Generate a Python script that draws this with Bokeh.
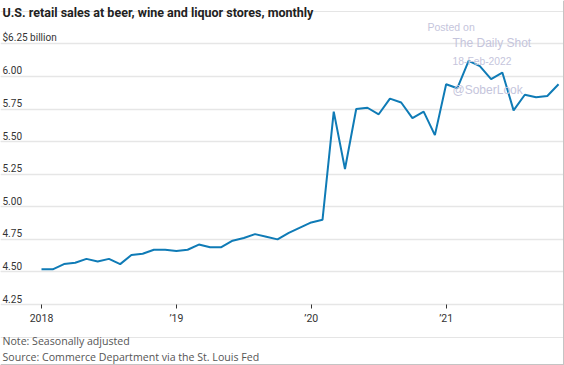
from bokeh.plotting import figure
from bokeh.models import Range1d, FixedTicker, Grid, Span, Label
from bokeh.core.properties import value
from bokeh.embed import file_html
from bokeh.resources import INLINE

# ---- data ----
months = list(range(47))  # Jan 2018 .. Nov 2021
sales = [4.52, 4.52, 4.56, 4.57, 4.60, 4.58, 4.60, 4.56, 4.63, 4.64, 4.67, 4.67,
         4.66, 4.67, 4.71, 4.69, 4.69, 4.74, 4.76, 4.79, 4.77, 4.75, 4.80, 4.84,
         4.88, 4.90, 5.73, 5.29, 5.75, 5.76, 5.71, 5.83, 5.80, 5.68, 5.73, 5.55,
         5.94, 5.91, 6.12, 6.08, 5.98, 6.03, 5.74, 5.86, 5.84, 5.85, 5.94]
y_ticks = [4.25, 4.50, 4.75, 5.00, 5.25, 5.50, 5.75, 6.00, 6.25]
y_labels = ["4.25", "4.50", "4.75", "5.00", "5.25", "5.50", "5.75", "6.00", "$6.25 billion"]
x_ticks = [0, 12, 24, 36]
x_labels = ["2018", "\u201919", "\u201920", "\u201921"]

# ---- layout helpers (pixel -> data) ----
W, H = 564, 365
PX_MONTH = 11.24
PX_UNIT = 130.3
def dx(px):
    return (px - 41) / PX_MONTH
def dy(py):
    return 4.25 + (304 - py) / PX_UNIT

p = figure(width=W, height=H, output_backend="svg", toolbar_location=None,
           x_range=Range1d(dx(0), dx(W)), y_range=Range1d(dy(H), dy(0)),
           y_axis_location=None, min_border=0, min_border_left=0, min_border_right=0,
           min_border_top=0, min_border_bottom=0)
p.outline_line_color = None
p.background_fill_color = "white"
p.border_fill_color = "white"
p.xgrid.visible = False

grid = Grid(dimension=1, ticker=FixedTicker(ticks=y_ticks),
            grid_line_color="#e6e6e6", grid_line_width=1.6)
p.add_layout(grid)

ax = p.xaxis[0]
ax.fixed_location = 4.25
ax.ticker = FixedTicker(ticks=x_ticks)
ax.major_label_overrides = {t: l for t, l in zip(x_ticks, x_labels)}
ax.axis_line_color = None
ax.major_tick_in = 0
ax.major_tick_out = 4
ax.major_tick_line_color = "#333333"
ax.minor_tick_line_color = None
ax.major_label_standoff = 3
ax.major_label_text_font = "Roboto"
ax.major_label_text_font_size = "10.5px"
ax.major_label_text_color = "#333333"

# y labels above gridlines
p.text(x=[dx(2)] * len(y_ticks), y=y_ticks, text=y_labels,
       text_font=value("Roboto"), text_font_size="10px",
       text_color="#333333", text_baseline="middle", text_align="left", y_offset=-6)

# data line
p.line(months, sales, line_color="#0f7bb6", line_width=2)

# title & footers
def lab(txt, px, py, size, color, font="Liberation Sans", style="normal"):
    p.add_layout(Label(x=dx(px), y=dy(py), text=txt, text_font=font,
                       text_font_size=size, text_color=color, text_font_style=style,
                       text_baseline="middle", text_align="left"))

lab("U.S. retail sales at beer, wine and liquor stores, monthly", 2, 12, "12.5px",
    "#222222", font="Roboto", style="bold")
lab("Note: Seasonally adjusted", 2, 340.7, "10.6px", "#555555", font="Open Sans")
lab("Source: Commerce Department via the St. Louis Fed", 2, 356.8, "10.6px", "#555555", font="Open Sans")

# watermark
wm = "#c5c5dc"
lab("Posted on", 427, 26.7, "10.5px", wm)
lab("The Daily Shot", 452, 42.7, "12px", wm)
lab("18-Feb-2022", 452, 60.7, "10.3px", wm)
lab("@SoberLook", 452, 89.3, "12px", wm)

# frame border (right & bottom)
p.add_layout(Span(location=dx(563), dimension="height", line_color="#c4c4c4", line_width=1))
p.add_layout(Span(location=dy(364), dimension="width", line_color="#c4c4c4", line_width=1))

open("out.html", "w").write(file_html(p, INLINE))
